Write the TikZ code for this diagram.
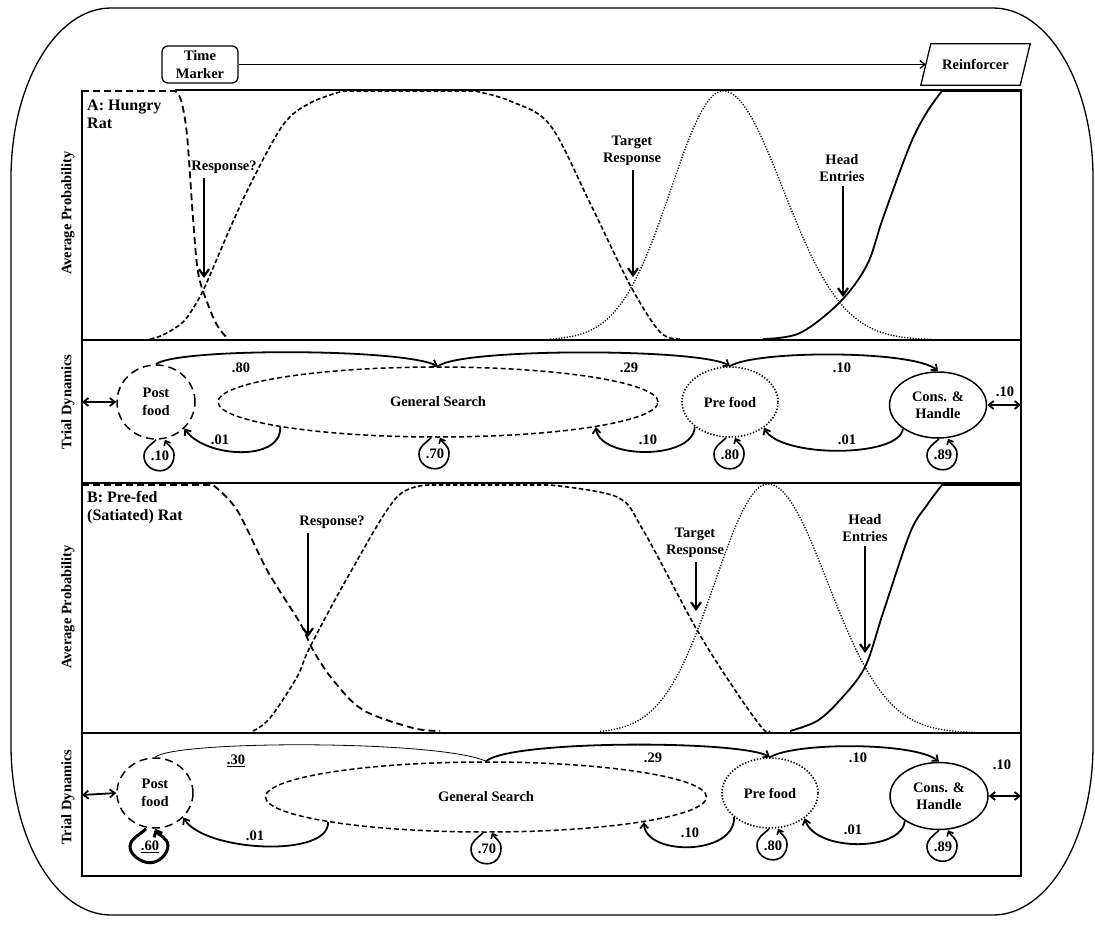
\documentclass[tikz,border=0pt]{standalone}
\usepackage{fontspec}
\setmainfont{Liberation Serif}
\usetikzlibrary{shapes.geometric,arrows.meta,calc}
% self loop: #1 node, #2 x offset, #3 label, #4 style, #5 label name, #6 half width, #7 height
\newcommand\sloop[7]{%
  \draw[#4] ($(#1.south)+(#2-4,0)$) .. controls +(-6,6) and +(0,-8) .. ($(#1.south)+(#2-#6,#7/2+1)$)
     .. controls +(0,8) and +(-9,0) .. ($(#1.south)+(#2,#7)$)
     .. controls +(9,0) and +(0,8) .. ($(#1.south)+(#2+#6-2,#7/2)$)
     .. controls +(0,-8) and +(3,6) .. ($(#1.south)+(#2+5,0)$);
  \node[txt] (#5) at ($(#1.south)+(#2,#7/2+1)$) {#3};}
\begin{document}
\begin{tikzpicture}[x=1pt,y=-1pt,
  txt/.style={font=\fontsize{14.5}{17.5}\selectfont\bfseries,inner sep=1pt,align=center},
  ttl/.style={font=\fontsize{16}{18}\selectfont\bfseries,inner sep=1pt,align=left,anchor=north west},
  frame/.style={line width=1.5pt},
  tip/.style={-{Straight Barb[length=5pt,width=8pt]}},
  arcc/.style={line width=1.8pt,tip},
  dtip/.style={{Straight Barb[length=5pt,width=8pt]}-{Straight Barb[length=5pt,width=8pt]},line width=1.8pt},
  parr/.style={line width=2.2pt,-{Straight Barb[length=7pt,width=10pt]},shorten <=3pt},
  lp/.style={line width=1.6pt,-{Straight Barb[length=4pt,width=7pt]}},
  lpthick/.style={line width=3pt,-{Straight Barb[length=5pt,width=9pt]}},
  pfn/.style={txt,ellipse,draw,line width=1.5pt,dash pattern=on 8pt off 5pt,inner sep=0pt},
  gsn/.style={txt,ellipse,draw,line width=1.5pt,dash pattern=on 5pt off 3pt,inner sep=0pt},
  prn/.style={txt,ellipse,draw,line width=1.6pt,dash pattern=on 1.3pt off 1.8pt,inner sep=0pt},
  chn/.style={txt,ellipse,draw,line width=1.5pt,inner sep=0pt},
  cpf/.style={line width=1.8pt,dash pattern=on 7pt off 4pt},
  cgs/.style={line width=1.6pt,dash pattern=on 4.5pt off 2.5pt},
  cpr/.style={line width=1.3pt,dash pattern=on 1.2pt off 1.6pt},
  chd/.style={line width=1.8pt}
]
\useasboundingbox (0,0) rectangle (1095,928);
\clip (0,0) rectangle (1095,928);
% outer rounded frame
\draw[line width=1.3pt] (11,178) .. controls (11,84.1) and (55.8,8) .. (111,8) -- (993,8)
  .. controls (1048.2,8) and (1093,84.1) .. (1093,178) -- (1093,745)
  .. controls (1093,838.9) and (1048.2,915) .. (993,915) -- (111,915)
  .. controls (55.8,915) and (11,838.9) .. (11,745) -- cycle;

% time marker and reinforcer
\node[txt,draw,rounded corners=6pt,line width=1.3pt,minimum width=76pt,minimum height=37pt] (tm) at (200,64.5) {Time\\Marker};
\node[txt,minimum width=99pt,minimum height=41pt] (rf) at (975.5,64.5) {Reinforcer};
\draw[line width=1.3pt] ($(rf.south west)+(-5,0)$) -- ($(rf.north west)+(5,0)$) -- ($(rf.north east)+(5,0)$) -- ($(rf.south east)+(-5,0)$) -- cycle;
\draw[line width=1.2pt,tip] (tm.east) -- (rf.west);

% panel frames
\draw[frame] (175,90) -- (1021,90) -- (1021,876) -- (82,876) -- (82,90);
\draw[frame] (82,340) -- (1021,340);
\draw[frame] (82,483) -- (1021,483);
\draw[frame] (82,733) -- (1021,733);

% side labels
\node[txt,rotate=90] (apA) at (68,213) {Average Probability};
\node[txt,rotate=90] (tdA) at (68,402) {Trial Dynamics};
\node[txt,rotate=90] (apB) at (68,607) {Average Probability};
\node[txt,rotate=90] (tdB) at (68,797) {Trial Dynamics};
\node[ttl] (pA) at (86,98.5) {A: Hungry\\Rat};
\node[ttl] (pB) at (86,490.5) {B: Pre-fed\\(Satiated) Rat};

% ---------- Panel A curves ----------
\draw[cpf] (82,91) -- plot[smooth,tension=0.55] coordinates {(175,91) (181,100) (187,135) (193,218) (198,272) (207,302) (217,325) (227,338)};
\draw[cgs] plot[smooth,tension=0.55] coordinates {(150,339) (163,335) (183,322) (197,302) (207,282) (228,233) (250,185) (283,125) (310,103) (343,91)}
  -- plot[smooth,tension=0.55] coordinates {(475,91) (510,101) (550,125) (590,203) (630,285) (660,332) (680,339)};
\draw[cpr] plot[domain=550:723,samples=50] (\x,{340-249*exp(-0.5*((\x-723)/52)^2)})
  -- plot[domain=723:945,samples=60] (\x,{340-249*exp(-0.5*((\x-723)/60)^2)});
\draw[chd] plot[smooth,tension=0.55] coordinates {(763,339) (800,333) (840,302) (867,265) (883,218) (910,145) (927,112) (942,91)} -- (1021,91);

\node[txt] (rA) at (224,167) {Response?};
\coordinate (cA1) at (204,278);
\draw[parr] (rA.south -| cA1) -- (cA1);
\node[txt] (tA) at (632,151) {Target\\Response};
\coordinate (cA2) at (633,277);
\draw[parr] (tA.south -| cA2) -- (cA2);
\node[txt] (hA) at (842,168) {Head\\Entries};
\coordinate (cA3) at (843,297);
\draw[parr] (hA.south -| cA3) -- (cA3);

% ---------- Trial dynamics A ----------
\node[pfn,minimum width=78pt,minimum height=74pt] (pfA) at (156,402) {Post\\food};
\node[gsn,minimum width=440pt,minimum height=70pt] (gsA) at (438,402) {General Search};
\node[prn,minimum width=96pt,minimum height=70pt] (prA) at (730,402) {Pre food};
\node[chn,minimum width=97pt,minimum height=66pt] (chA) at (938,405) {Cons. \&\\Handle};
\coordinate (lA) at (82,402);
\coordinate (rAe) at (1021,405);
\draw[dtip] (lA) -- (pfA.west);
\draw[dtip] (chA.east) -- (rAe);
\node[txt] (nA7) at (1005,392) {.10};

\draw[arcc] (pfA.north) .. controls (175,348) and (400,348) .. (gsA.north);
\draw[arcc] (gsA.north) .. controls (460,348) and (700,348) .. (prA.north);
\draw[arcc] (prA.north) .. controls (755,350) and (915,350) .. (chA.north);
\node[txt] (nA1) at (241,368) {.80};
\node[txt] (nA2) at (629,368) {.29};
\node[txt] (nA3) at (842,368) {.10};

\draw[arcc] (gsA.189) .. controls (282,462) and (205,458) .. (pfA.-43);
\draw[arcc] (prA.215) .. controls (694,460) and (600,460) .. (gsA.-9);
\draw[arcc] (chA.214) .. controls (900,458) and (780,458) .. (prA.-37);
\node[txt] (nA4) at (220,440) {.01};
\node[txt] (nA5) at (648,440) {.10};
\node[txt] (nA6) at (847,440) {.01};

\sloop{pfA}{4}{.10}{lp}{sA1}{16}{31}
\sloop{gsA}{-3}{.70}{lp}{sA2}{16}{31}
\sloop{prA}{0}{.80}{lp}{sA3}{16}{31}
\sloop{chA}{5}{.89}{lp}{sA4}{16}{31}

% ---------- Panel B curves ----------
\draw[cpf] (82,485) -- plot[smooth,tension=0.55] coordinates {(213,485) (237,510) (267,570) (300,623) (313,650) (333,680) (363,710) (413,728) (440,731)};
\draw[cgs] plot[smooth,tension=0.55] coordinates {(253,731) (270,718) (297,677) (310,647) (350,573) (397,497) (433,485)}
  -- plot[smooth,tension=0.55] coordinates {(550,485) (617,497) (643,530) (697,630) (737,693) (763,729) (770,731)};
\draw[cpr] plot[domain=600:768,samples=50] (\x,{733-249*exp(-0.5*((\x-768)/53)^2)})
  -- plot[domain=768:975,samples=60] (\x,{733-249*exp(-0.5*((\x-768)/59.5)^2)});
\draw[chd] plot[smooth,tension=0.55] coordinates {(790,731) (817,721) (840,700) (865,667) (883,613) (910,533) (927,505) (942,485)} -- (1021,485);

\node[txt] (rB) at (332,522) {Response?};
\coordinate (cB1) at (308,637);
\draw[parr] (rB.south -| cB1) -- (cB1);
\node[txt] (tB) at (695,543) {Target\\Response};
\coordinate (cB2) at (696,611);
\draw[parr] (tB.south -| cB2) -- (cB2);
\node[txt] (hB) at (865,528) {Head\\Entries};
\coordinate (cB3) at (865,653);
\draw[parr] (hB.south -| cB3) -- (cB3);

% ---------- Trial dynamics B ----------
\node[pfn,minimum width=76pt,minimum height=70pt] (pfB) at (155,793) {Post\\food};
\node[gsn,minimum width=441pt,minimum height=70pt] (gsB) at (486,797) {General Search};
\node[prn,minimum width=96pt,minimum height=70pt] (prB) at (770,793) {Pre food};
\node[chn,minimum width=98pt,minimum height=67pt] (chB) at (939,796) {Cons. \&\\Handle};
\coordinate (lB) at (82,795);
\coordinate (rBe) at (1021,796);
\draw[dtip] (lB) -- (pfB.west);
\draw[dtip] (chB.east) -- (rBe);
\node[txt] (nB7) at (1002,765) {.10};

\draw[line width=0.8pt] (pfB.north) .. controls (175,740) and (440,740) .. (gsB.north);
\draw[arcc] (gsB.north) .. controls (510,740) and (740,740) .. (prB.north);
\draw[arcc] (prB.north) .. controls (795,742) and (915,742) .. (chB.north);
\node[txt] (nB1) at (236,761) {\underline{.30}};
\node[txt] (nB2) at (653,758) {.29};
\node[txt] (nB3) at (858,758) {.10};

\draw[arcc] (gsB.189) .. controls (330,858) and (205,852) .. (pfB.-41);
\draw[arcc] (prB.214) .. controls (735,856) and (645,856) .. (gsB.-9);
\draw[arcc] (chB.216) .. controls (902,852) and (815,852) .. (prB.-36);
\node[txt] (nB4) at (255,836) {.01};
\node[txt] (nB5) at (690,833) {.10};
\node[txt] (nB6) at (853,830) {.01};

\sloop{pfB}{-5}{\underline{.60}}{lpthick}{sB1}{20}{34}
\sloop{gsB}{1}{.70}{lp}{sB2}{16}{31}
\sloop{prB}{3}{.80}{lp}{sB3}{16}{31}
\sloop{chB}{4}{.89}{lp}{sB4}{16}{31}
\end{tikzpicture}
\end{document}
